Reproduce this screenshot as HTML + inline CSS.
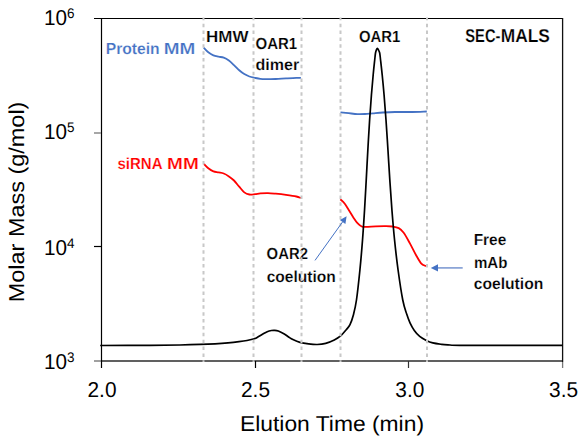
<!DOCTYPE html>
<html><head><meta charset="utf-8"><style>
html,body{margin:0;padding:0;background:#fff;width:583px;height:442px;overflow:hidden}
svg{display:block}
text{font-family:"Liberation Sans",sans-serif;text-rendering:geometricPrecision}
</style></head><body>
<svg width="583" height="442" viewBox="0 0 583 442">
<rect width="583" height="442" fill="#fff"/>
<line x1="101" y1="361" x2="563" y2="361" stroke="#606060" stroke-width="2"/>
<line x1="94" y1="361" x2="101" y2="361" stroke="#a0a0a0" stroke-width="2"/>
<line x1="94" y1="18.5" x2="563" y2="18.5" stroke="#000" stroke-width="1.2"/>
<line x1="101.5" y1="18" x2="101.5" y2="368" stroke="#000" stroke-width="1.2"/>
<line x1="562.6" y1="18" x2="562.6" y2="362" stroke="#111" stroke-width="1.3"/>
<line x1="562.6" y1="362" x2="562.6" y2="368" stroke="#777" stroke-width="1.3"/>
<line x1="94" y1="133" x2="101" y2="133" stroke="#8a8a8a" stroke-width="1.5"/>
<line x1="94" y1="246.5" x2="101" y2="246.5" stroke="#000" stroke-width="1.2"/>
<line x1="255.5" y1="361" x2="255.5" y2="368" stroke="#000" stroke-width="1.2"/>
<line x1="408.5" y1="361" x2="408.5" y2="368" stroke="#333" stroke-width="1.2"/>
<path d="M203.70 47.70 C204.47 48.47 206.68 51.02 208.30 52.30 C209.92 53.58 211.68 54.67 213.40 55.40 C215.12 56.13 216.88 56.33 218.60 56.70 C220.32 57.07 221.98 56.97 223.70 57.60 C225.42 58.23 227.18 59.25 228.90 60.50 C230.62 61.75 232.28 63.47 234.00 65.10 C235.72 66.73 237.48 68.80 239.20 70.30 C240.92 71.80 242.60 73.07 244.30 74.10 C246.00 75.13 247.60 75.87 249.40 76.50 C251.20 77.13 253.28 77.50 255.10 77.90 C256.92 78.30 258.58 78.68 260.30 78.90 C262.02 79.12 262.83 79.18 265.40 79.20 C267.97 79.22 272.27 79.13 275.70 79.00 C279.13 78.87 282.57 78.58 286.00 78.40 C289.43 78.22 293.82 77.98 296.30 77.90 C298.78 77.82 300.13 77.90 300.90 77.90" fill="none" stroke="#4472C4" stroke-width="1.8"/>
<path d="M340.50 112.30 C341.87 112.45 345.87 112.90 348.70 113.20 C351.53 113.50 354.78 113.97 357.50 114.10 C360.22 114.23 362.42 114.13 365.00 114.00 C367.58 113.87 370.00 113.55 373.00 113.30 C376.00 113.05 379.33 112.72 383.00 112.50 C386.67 112.28 390.13 112.08 395.00 112.00 C399.87 111.92 406.90 112.08 412.20 112.00 C417.50 111.92 424.37 111.58 426.80 111.50" fill="none" stroke="#4472C4" stroke-width="1.8"/>
<path d="M204.00 164.00 C204.72 164.72 206.73 167.07 208.30 168.30 C209.87 169.53 211.68 170.72 213.40 171.40 C215.12 172.08 216.88 172.05 218.60 172.40 C220.32 172.75 221.98 172.83 223.70 173.50 C225.42 174.17 227.18 175.23 228.90 176.40 C230.62 177.57 232.28 178.78 234.00 180.50 C235.72 182.22 237.48 184.72 239.20 186.70 C240.92 188.68 242.60 191.10 244.30 192.40 C246.00 193.70 247.60 194.20 249.40 194.50 C251.20 194.80 253.28 194.38 255.10 194.20 C256.92 194.02 258.15 193.58 260.30 193.40 C262.45 193.22 265.43 193.05 268.00 193.10 C270.57 193.15 272.70 193.40 275.70 193.70 C278.70 194.00 282.57 194.43 286.00 194.90 C289.43 195.37 293.82 195.98 296.30 196.50 C298.78 197.02 300.13 197.75 300.90 198.00" fill="none" stroke="#FF0000" stroke-width="1.8"/>
<path d="M340.30 199.30 C341.02 200.00 343.17 201.67 344.60 203.50 C346.03 205.33 347.47 208.02 348.90 210.30 C350.33 212.58 351.77 215.05 353.20 217.20 C354.63 219.35 356.07 221.65 357.50 223.20 C358.93 224.75 360.38 225.88 361.80 226.50 C363.22 227.12 363.68 226.92 366.00 226.90 C368.32 226.88 372.55 226.52 375.70 226.40 C378.85 226.28 382.10 226.18 384.90 226.20 C387.70 226.22 390.20 226.18 392.50 226.50 C394.80 226.82 396.83 227.05 398.70 228.10 C400.57 229.15 401.83 230.25 403.70 232.80 C405.57 235.35 407.83 239.67 409.90 243.40 C411.97 247.13 414.23 251.88 416.10 255.20 C417.97 258.52 419.45 261.47 421.10 263.30 C422.75 265.13 425.18 265.72 426.00 266.20" fill="none" stroke="#FF0000" stroke-width="1.8"/>
<path d="M100.20 345.50 C108.50 345.47 136.70 345.40 150.00 345.31 C163.30 345.22 171.67 345.12 180.00 344.98 C188.33 344.84 194.17 344.67 200.00 344.47 C205.83 344.27 210.33 344.07 215.00 343.80 C219.67 343.53 224.00 343.22 228.00 342.87 C232.00 342.52 235.83 342.09 239.00 341.70 C242.17 341.31 244.45 341.01 247.00 340.53 C249.55 340.05 252.37 339.45 254.30 338.80 C256.23 338.15 257.17 337.40 258.60 336.60 C260.03 335.80 261.47 334.82 262.90 334.00 C264.33 333.18 265.78 332.28 267.20 331.70 C268.62 331.12 270.20 330.73 271.40 330.50 C272.60 330.27 273.25 330.22 274.40 330.30 C275.55 330.38 276.65 330.38 278.30 331.00 C279.95 331.62 282.58 333.00 284.30 334.00 C286.02 335.00 287.17 336.07 288.60 337.00 C290.03 337.93 291.00 338.70 292.90 339.60 C294.80 340.50 297.38 341.68 300.00 342.40 C302.62 343.12 305.73 343.55 308.60 343.90 C311.47 344.25 314.35 344.58 317.20 344.50 C320.05 344.42 322.85 344.15 325.70 343.40 C328.55 342.65 331.87 341.20 334.30 340.00 C336.73 338.80 338.30 337.92 340.30 336.20 C342.30 334.48 344.68 331.63 346.30 329.70 C347.92 327.77 348.83 327.00 350.00 324.60 C351.17 322.20 352.22 319.40 353.30 315.30 C354.38 311.20 355.37 307.55 356.47 300.00 C357.57 292.45 358.90 280.00 359.91 270.00 C360.92 260.00 361.75 250.00 362.52 240.00 C363.29 230.00 363.92 220.00 364.54 210.00 C365.16 200.00 365.68 190.00 366.23 180.00 C366.78 170.00 367.27 160.00 367.84 150.00 C368.40 140.00 369.02 129.17 369.62 120.00 C370.22 110.83 370.83 102.50 371.42 95.00 C372.01 87.50 372.61 80.83 373.16 75.00 C373.71 69.17 374.31 63.67 374.70 60.00 C375.09 56.33 375.22 54.70 375.50 53.00 C375.78 51.30 376.08 50.57 376.40 49.80 C376.72 49.03 377.07 48.40 377.40 48.40 C377.73 48.40 378.02 49.03 378.40 49.80 C378.78 50.57 379.34 51.30 379.70 53.00 C380.06 54.70 380.14 56.33 380.56 60.00 C380.98 63.67 381.62 69.17 382.21 75.00 C382.80 80.83 383.45 87.50 384.08 95.00 C384.71 102.50 385.35 110.83 386.00 120.00 C386.65 129.17 387.32 140.00 387.96 150.00 C388.60 160.00 389.16 170.00 389.82 180.00 C390.48 190.00 391.13 200.00 391.92 210.00 C392.71 220.00 393.54 230.00 394.56 240.00 C395.58 250.00 396.70 260.00 398.07 270.00 C399.44 280.00 401.32 292.65 402.76 300.00 C404.20 307.35 405.49 310.30 406.70 314.10 C407.91 317.90 408.73 320.08 410.00 322.80 C411.27 325.52 412.68 328.13 414.30 330.40 C415.92 332.67 417.70 334.73 419.70 336.40 C421.70 338.07 424.12 339.32 426.30 340.40 C428.48 341.48 430.27 342.25 432.80 342.90 C435.33 343.55 438.97 343.98 441.50 344.30 C444.03 344.62 443.92 344.62 448.00 344.80 C452.08 344.98 446.92 345.30 466.00 345.40 C485.08 345.50 546.42 345.40 562.50 345.40" fill="none" stroke="#000" stroke-width="1.7"/>
<text x="44.0" y="25.2" font-size="21.5" font-weight="normal" fill="#000" textLength="23.0" lengthAdjust="spacingAndGlyphs">10</text>
<text x="67.0" y="18.2" font-size="14.0" font-weight="normal" fill="#000" textLength="7.5" lengthAdjust="spacingAndGlyphs">6</text>
<text x="44.0" y="139.0" font-size="21.5" font-weight="normal" fill="#000" textLength="23.0" lengthAdjust="spacingAndGlyphs">10</text>
<text x="67.0" y="132.0" font-size="14.0" font-weight="normal" fill="#000" textLength="7.5" lengthAdjust="spacingAndGlyphs">5</text>
<text x="44.0" y="255.2" font-size="21.5" font-weight="normal" fill="#000" textLength="23.0" lengthAdjust="spacingAndGlyphs">10</text>
<text x="67.0" y="248.2" font-size="14.0" font-weight="normal" fill="#000" textLength="7.5" lengthAdjust="spacingAndGlyphs">4</text>
<text x="44.0" y="369.0" font-size="21.5" font-weight="normal" fill="#000" textLength="23.0" lengthAdjust="spacingAndGlyphs">10</text>
<text x="67.0" y="362.0" font-size="14.0" font-weight="normal" fill="#000" textLength="7.5" lengthAdjust="spacingAndGlyphs">3</text>
<text x="87.5" y="397.0" font-size="21.5" font-weight="normal" fill="#000" textLength="29.0" lengthAdjust="spacingAndGlyphs">2.0</text>
<text x="241.0" y="397.0" font-size="21.5" font-weight="normal" fill="#000" textLength="29.0" lengthAdjust="spacingAndGlyphs">2.5</text>
<text x="395.3" y="397.0" font-size="21.5" font-weight="normal" fill="#000" textLength="29.0" lengthAdjust="spacingAndGlyphs">3.0</text>
<text x="549.1" y="397.0" font-size="21.5" font-weight="normal" fill="#000" textLength="29.0" lengthAdjust="spacingAndGlyphs">3.5</text>
<text x="240.0" y="431.4" font-size="21.5" font-weight="normal" fill="#000" textLength="184.0" lengthAdjust="spacingAndGlyphs">Elution Time (min)</text>
<text transform="translate(24.3 302.2) rotate(-90)" x="0" y="0" font-size="21.5" textLength="200.6" lengthAdjust="spacingAndGlyphs">Molar Mass (g/mol)</text>
<text x="105.7" y="54.3" font-size="16.0" font-weight="bold" fill="#4472C4" textLength="54.0" lengthAdjust="spacingAndGlyphs" stroke="#fff" stroke-width="0.2" paint-order="fill">Protein</text>
<text x="163.8" y="54.3" font-size="16.0" font-weight="bold" fill="#4472C4" textLength="31.5" lengthAdjust="spacingAndGlyphs" stroke="#fff" stroke-width="0.2" paint-order="fill">MM</text>
<text x="117.5" y="168.8" font-size="16.0" font-weight="bold" fill="#FF0000" textLength="45.0" lengthAdjust="spacingAndGlyphs" stroke="#fff" stroke-width="0.2" paint-order="fill">siRNA</text>
<text x="167.1" y="168.8" font-size="16.0" font-weight="bold" fill="#FF0000" textLength="31.6" lengthAdjust="spacingAndGlyphs" stroke="#fff" stroke-width="0.2" paint-order="fill">MM</text>
<text x="206.0" y="41.7" font-size="16.0" font-weight="bold" fill="#000" textLength="42.4" lengthAdjust="spacingAndGlyphs" stroke="#fff" stroke-width="0.2" paint-order="fill">HMW</text>
<text x="255.5" y="48.9" font-size="16.0" font-weight="bold" fill="#000" textLength="41.7" lengthAdjust="spacingAndGlyphs" stroke="#fff" stroke-width="0.2" paint-order="fill">OAR1</text>
<text x="255.5" y="70.2" font-size="16.0" font-weight="bold" fill="#000" textLength="43.7" lengthAdjust="spacingAndGlyphs" stroke="#fff" stroke-width="0.2" paint-order="fill">dimer</text>
<text x="359.0" y="41.7" font-size="16.0" font-weight="bold" fill="#000" textLength="41.4" lengthAdjust="spacingAndGlyphs" stroke="#fff" stroke-width="0.2" paint-order="fill">OAR1</text>
<text x="465.3" y="42.0" font-size="18.5" font-weight="bold" fill="#000" textLength="35.2" lengthAdjust="spacingAndGlyphs" stroke="#fff" stroke-width="0.2" paint-order="fill">SEC-</text>
<text x="500.7" y="42.0" font-size="18.5" font-weight="bold" fill="#000" textLength="49.2" lengthAdjust="spacingAndGlyphs" stroke="#fff" stroke-width="0.2" paint-order="fill">MALS</text>
<text x="266.6" y="259.0" font-size="16.0" font-weight="bold" fill="#000" textLength="41.3" lengthAdjust="spacingAndGlyphs" stroke="#fff" stroke-width="0.2" paint-order="fill">OAR2</text>
<text x="266.7" y="282.3" font-size="16.0" font-weight="bold" fill="#000" textLength="69.1" lengthAdjust="spacingAndGlyphs" stroke="#fff" stroke-width="0.2" paint-order="fill">coelution</text>
<text x="473.7" y="245.3" font-size="16.0" font-weight="bold" fill="#000" textLength="32.6" lengthAdjust="spacingAndGlyphs" stroke="#fff" stroke-width="0.2" paint-order="fill">Free</text>
<text x="473.9" y="267.5" font-size="16.0" font-weight="bold" fill="#000" textLength="33.5" lengthAdjust="spacingAndGlyphs" stroke="#fff" stroke-width="0.2" paint-order="fill">mAb</text>
<text x="473.7" y="289.1" font-size="16.0" font-weight="bold" fill="#000" textLength="69.6" lengthAdjust="spacingAndGlyphs" stroke="#fff" stroke-width="0.2" paint-order="fill">coelution</text>
<line x1="203.5" y1="17.5" x2="203.5" y2="362" stroke="#c8c8c8" stroke-width="2" stroke-dasharray="3.5 3.37" stroke-dashoffset="0.72"/>
<line x1="253.5" y1="17.5" x2="253.5" y2="362" stroke="#c8c8c8" stroke-width="2" stroke-dasharray="3.5 3.37" stroke-dashoffset="0.72"/>
<line x1="301.5" y1="17.5" x2="301.5" y2="362" stroke="#c8c8c8" stroke-width="2" stroke-dasharray="3.5 3.37" stroke-dashoffset="0.72"/>
<line x1="340.5" y1="17.5" x2="340.5" y2="362" stroke="#c8c8c8" stroke-width="2" stroke-dasharray="3.5 3.37" stroke-dashoffset="0.72"/>
<line x1="427.0" y1="17.5" x2="427.0" y2="362" stroke="#c8c8c8" stroke-width="2" stroke-dasharray="3.5 3.37" stroke-dashoffset="0.72"/>
<line x1="315" y1="260.4" x2="342.5" y2="222" stroke="#4472C4" stroke-width="1"/>
<polygon points="346.6,216.3 339.9,219.9 345.4,223.9" fill="#4472C4"/>
<line x1="462.7" y1="267.9" x2="437" y2="267.9" stroke="#7f9bd3" stroke-width="1.6"/>
<polygon points="430.8,267.9 438,264.3 438,271.5" fill="#4472C4"/>
</svg>
</body></html>
